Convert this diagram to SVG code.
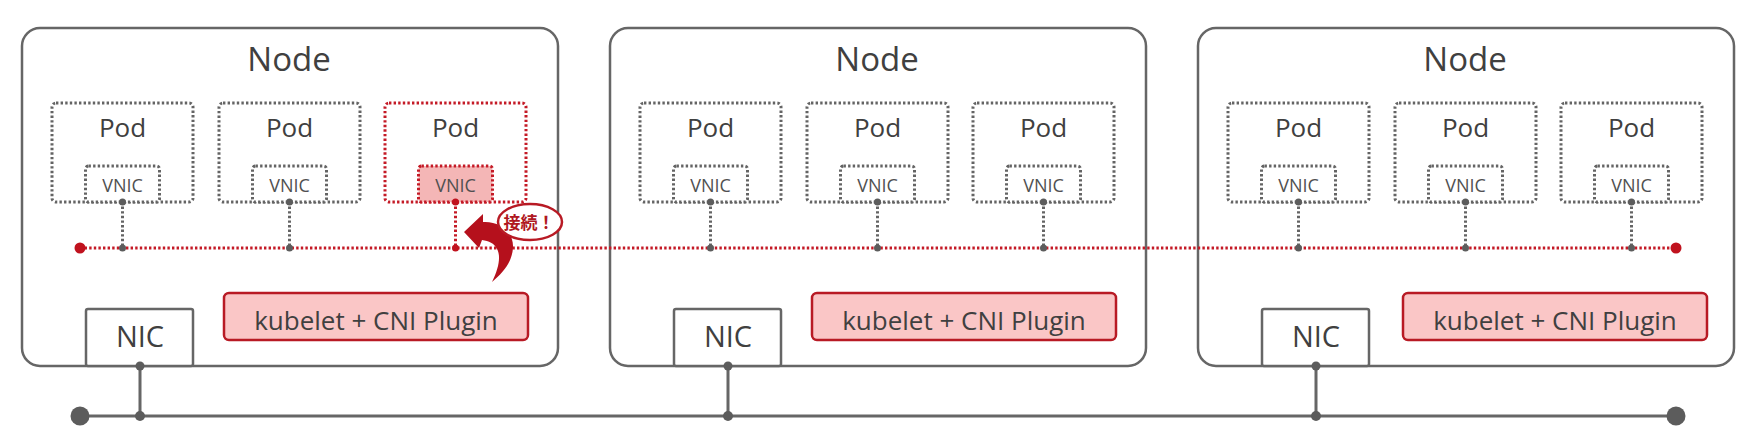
<svg xmlns="http://www.w3.org/2000/svg" width="1759" height="440" viewBox="0 0 1759 440">
<style>
.node{fill:#fff;stroke:#666;stroke-width:2.5}
.pod{fill:none;stroke:#646464;stroke-width:3;stroke-dasharray:2.4 2.2}
.vnic{fill:#fff;stroke:#646464;stroke-width:3;stroke-dasharray:2.4 2.2}
.podr{fill:none;stroke:#c41a26;stroke-width:3;stroke-dasharray:2.4 2.2}
.vnicr{fill:#f4b6b6;stroke:#c41a26;stroke-width:3;stroke-dasharray:2.4 2.2}
.nic{fill:#fff;stroke:#666;stroke-width:2.5}
.kub{fill:#fac6c6;stroke:#b81a24;stroke-width:2.5}
.t{font-family:"Open Sans","Liberation Sans",sans-serif;fill:#404040;text-anchor:middle}
.title{font-size:33px}
.podt{font-size:26px}
.vt{font-size:18px;fill:#505050}
.nict{font-size:29px}
.kt{font-size:26px}
.gdot{stroke:#646464;stroke-width:3;stroke-dasharray:2.4 2.2;fill:none}
.rdot{stroke:#c41a26;stroke-width:3;stroke-dasharray:2.4 2.2;fill:none}
.bus{stroke:#666;stroke-width:3;fill:none}
.gd{fill:#5c5c5c}
.rd{fill:#c0121e}
</style>
<rect width="1759" height="440" fill="#fff"/>

<g id="node1">
<rect class="node" x="22" y="28" width="536" height="338" rx="18"/>
<text class="t title" x="289" y="71">Node</text>
<g id="node1-pod1"><rect class="pod" x="52" y="103" width="141" height="99" rx="4"/><text class="t podt" x="122.5" y="137">Pod</text><rect class="vnic" x="85.5" y="166" width="74" height="36" rx="3"/><text class="t vt" x="122.5" y="192">VNIC</text></g>
<g id="node1-pod2"><rect class="pod" x="219" y="103" width="141" height="99" rx="4"/><text class="t podt" x="289.5" y="137">Pod</text><rect class="vnic" x="252.5" y="166" width="74" height="36" rx="3"/><text class="t vt" x="289.5" y="192">VNIC</text></g>
<g id="node1-pod3"><rect class="podr" x="385" y="103" width="141" height="99" rx="4"/><text class="t podt" x="455.5" y="137">Pod</text><rect class="vnicr" x="418.5" y="166" width="74" height="36" rx="3"/><text class="t vt" x="455.5" y="192">VNIC</text></g>
<g id="node1-nic"><rect class="nic" x="86" y="309" width="107" height="57" rx="2"/><text class="t nict" x="140" y="347">NIC</text></g>
<g id="node1-kubelet"><rect class="kub" x="224" y="293" width="304" height="47" rx="5"/><text class="t kt" x="376" y="330">kubelet + CNI Plugin</text></g>
</g>

<g id="node2">
<rect class="node" x="610" y="28" width="536" height="338" rx="18"/>
<text class="t title" x="877" y="71">Node</text>
<g id="node2-pod1"><rect class="pod" x="640" y="103" width="141" height="99" rx="4"/><text class="t podt" x="710.5" y="137">Pod</text><rect class="vnic" x="673.5" y="166" width="74" height="36" rx="3"/><text class="t vt" x="710.5" y="192">VNIC</text></g>
<g id="node2-pod2"><rect class="pod" x="807" y="103" width="141" height="99" rx="4"/><text class="t podt" x="877.5" y="137">Pod</text><rect class="vnic" x="840.5" y="166" width="74" height="36" rx="3"/><text class="t vt" x="877.5" y="192">VNIC</text></g>
<g id="node2-pod3"><rect class="pod" x="973" y="103" width="141" height="99" rx="4"/><text class="t podt" x="1043.5" y="137">Pod</text><rect class="vnic" x="1006.5" y="166" width="74" height="36" rx="3"/><text class="t vt" x="1043.5" y="192">VNIC</text></g>
<g id="node2-nic"><rect class="nic" x="674" y="309" width="107" height="57" rx="2"/><text class="t nict" x="728" y="347">NIC</text></g>
<g id="node2-kubelet"><rect class="kub" x="812" y="293" width="304" height="47" rx="5"/><text class="t kt" x="964" y="330">kubelet + CNI Plugin</text></g>
</g>

<g id="node3">
<rect class="node" x="1198" y="28" width="536" height="338" rx="18"/>
<text class="t title" x="1465" y="71">Node</text>
<g id="node3-pod1"><rect class="pod" x="1228" y="103" width="141" height="99" rx="4"/><text class="t podt" x="1298.5" y="137">Pod</text><rect class="vnic" x="1261.5" y="166" width="74" height="36" rx="3"/><text class="t vt" x="1298.5" y="192">VNIC</text></g>
<g id="node3-pod2"><rect class="pod" x="1395" y="103" width="141" height="99" rx="4"/><text class="t podt" x="1465.5" y="137">Pod</text><rect class="vnic" x="1428.5" y="166" width="74" height="36" rx="3"/><text class="t vt" x="1465.5" y="192">VNIC</text></g>
<g id="node3-pod3"><rect class="pod" x="1561" y="103" width="141" height="99" rx="4"/><text class="t podt" x="1631.5" y="137">Pod</text><rect class="vnic" x="1594.5" y="166" width="74" height="36" rx="3"/><text class="t vt" x="1631.5" y="192">VNIC</text></g>
<g id="node3-nic"><rect class="nic" x="1262" y="309" width="107" height="57" rx="2"/><text class="t nict" x="1316" y="347">NIC</text></g>
<g id="node3-kubelet"><rect class="kub" x="1403" y="293" width="304" height="47" rx="5"/><text class="t kt" x="1555" y="330">kubelet + CNI Plugin</text></g>
</g>

<g id="connectors">
<line class="rdot" x1="80" y1="248" x2="1676" y2="248"/>
<path class="gdot" d="M122.5 202V248M289.5 202V248M710.5 202V248M877.5 202V248M1043.5 202V248M1298.5 202V248M1465.5 202V248M1631.5 202V248"/>
<path class="rdot" d="M455.5 202V248"/>
<g class="gd">
<circle cx="122.5" cy="202" r="3.5"/><circle cx="122.5" cy="248" r="3.5"/>
<circle cx="289.5" cy="202" r="3.5"/><circle cx="289.5" cy="248" r="3.5"/>
<circle cx="710.5" cy="202" r="3.5"/><circle cx="710.5" cy="248" r="3.5"/>
<circle cx="877.5" cy="202" r="3.5"/><circle cx="877.5" cy="248" r="3.5"/>
<circle cx="1043.5" cy="202" r="3.5"/><circle cx="1043.5" cy="248" r="3.5"/>
<circle cx="1298.5" cy="202" r="3.5"/><circle cx="1298.5" cy="248" r="3.5"/>
<circle cx="1465.5" cy="202" r="3.5"/><circle cx="1465.5" cy="248" r="3.5"/>
<circle cx="1631.5" cy="202" r="3.5"/><circle cx="1631.5" cy="248" r="3.5"/>
</g>
<g class="rd">
<circle cx="455.5" cy="202" r="3.5"/><circle cx="455.5" cy="248" r="3.5"/>
<circle cx="80" cy="248" r="5.5"/><circle cx="1676" cy="248" r="5.5"/>
</g>
<line class="bus" x1="80" y1="416" x2="1676" y2="416"/>
<path class="bus" d="M140 366V416M728 366V416M1316 366V416"/>
<g class="gd">
<circle cx="80" cy="416" r="9.5"/><circle cx="1676" cy="416" r="9.5"/>
<circle cx="140" cy="366" r="4.5"/><circle cx="140" cy="416" r="5"/>
<circle cx="728" cy="366" r="4.5"/><circle cx="728" cy="416" r="5"/>
<circle cx="1316" cy="366" r="4.5"/><circle cx="1316" cy="416" r="5"/>
</g>
</g>

<g id="connect-callout">
<path fill="#b5101c" d="M464 232 L483 214 L483 222 C500 221 514 232 513 248 C512 262 503 273 492 282 C499 268 501 256 497 249 C494 243 489 241 482 240 L479 248 Z"/>
<ellipse cx="530" cy="222" rx="32" ry="18" fill="#fff" stroke="#b81a24" stroke-width="2.5"/>
<text x="529" y="228.5" font-family="'Noto Sans CJK JP',sans-serif" font-size="17" font-weight="bold" fill="#b01822" text-anchor="middle">接続！</text>
</g>
</svg>
